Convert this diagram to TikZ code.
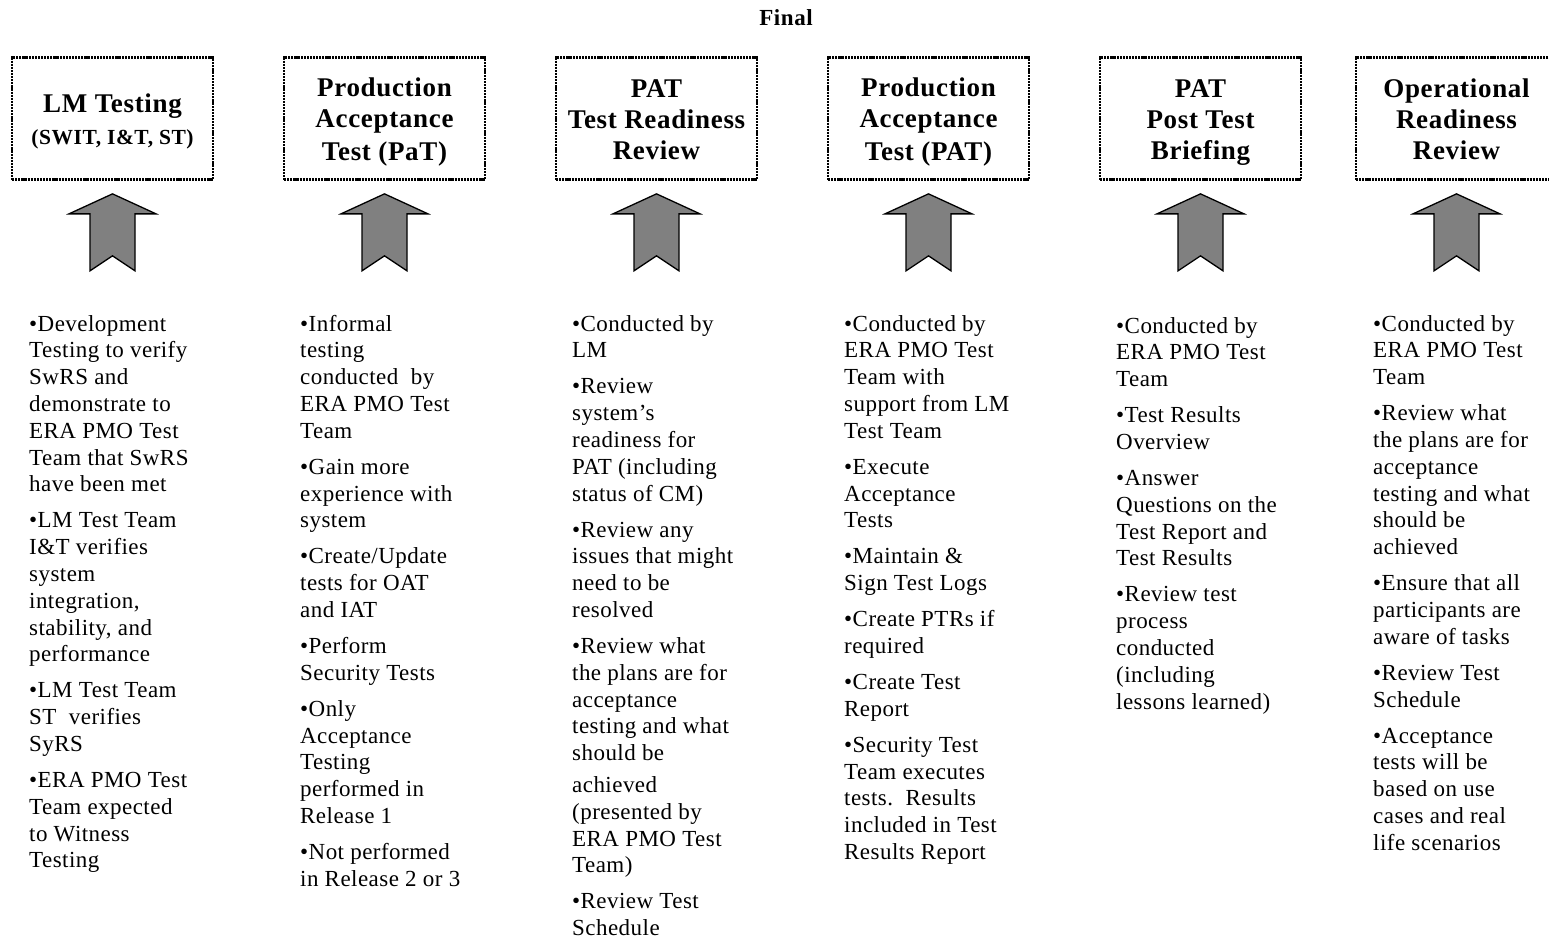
\documentclass[tikz,border=0pt]{standalone}
\usepackage{fontspec}
\setmainfont{Liberation Serif}
\newfontfamily\bodyfont{Liberation Serif}[LetterSpace=2]
\newfontfamily\headfont{Liberation Serif}[LetterSpace=2.5]
\definecolor{arrowgray}{HTML}{808080}
\newcommand{\gap}{\\[9.2pt]}
% invisible rule that fixes the top and bottom of a box title
\newcommand{\titlestrut}{\vrule height 25.75pt depth 5.25pt width 0pt}
\newcommand{\stagetitle}[3]{\titlestrut #1\\#2\\#3\titlestrut}
\begin{document}
\begin{tikzpicture}[x=1pt,y=-1pt,
  stage/.style={draw=black, line width=2.7pt, dash pattern=on 2.2pt off 0.9pt,
    minimum width=201pt, minimum height=122pt, inner sep=0pt, align=center,
    font=\headfont\bfseries\fontsize{27}{31}\selectfont},
  notes/.style={anchor=north west, inner sep=0pt, align=left,
    font=\bodyfont\fontsize{23}{26.8}\selectfont},
  blockarrow/.style={fill=arrowgray, draw=black, line width=1.3pt, line join=miter}
]
\useasboundingbox (0,0) rectangle (1549,938);

% heading
\node[font=\headfont\bfseries\fontsize{23}{26}\selectfont] (final) at (786,18) {Final};

% stage boxes
\node[stage] (b1) at (112.5,118.5) {\titlestrut LM Testing\\[-1pt]{\fontsize{21.5}{24}\selectfont (SWIT, I\&T, ST)\titlestrut}};
\node[stage] (b2) at (384.5,118.5) {\stagetitle{Production}{Acceptance}{Test (PaT)}};
\node[stage] (b3) at (656.5,118.5) {\stagetitle{PAT}{Test Readiness}{Review}};
\node[stage] (b4) at (928.5,118.5) {\stagetitle{Production}{Acceptance}{Test (PAT)}};
\node[stage] (b5) at (1200.5,118.5) {\stagetitle{PAT}{Post Test}{Briefing}};
\node[stage] (b6) at (1456.5,118.5) {\stagetitle{Operational}{Readiness}{Review}};

% block arrows pointing up into each box
\foreach \n in {1,...,6}
  \draw[blockarrow] ([yshift=-13pt]b\n.south) -- ++(43.5,20) -- ++(-21,0) -- ++(0,57)
    -- ++(-22.5,-15) -- ++(-22.5,15) -- ++(0,-57) -- ++(-21,0) -- cycle;

% bullet notes under each stage
\node[notes] (t1) at (29,312.2) {\strut •Development\\Testing to verify\\SwRS and\\demonstrate to\\ERA PMO Test\\Team that SwRS\\have been met\gap
•LM Test Team\\I\&T verifies\\system\\integration,\\stability, and\\performance\gap
•LM Test Team\\ST\ \ verifies\\SyRS\gap
•ERA PMO Test\\Team expected\\to Witness\\Testing};

\node[notes] (t2) at (300,312.2) {\strut •Informal\\testing\\conducted\ \ by\\ERA PMO Test\\Team\gap
•Gain more\\experience with\\system\gap
•Create/Update\\tests for OAT\\and IAT\gap
•Perform\\Security Tests\gap
•Only\\Acceptance\\Testing\\performed in\\Release 1\gap
•Not performed\\in Release 2 or 3};

\node[notes] (t3) at (572,312.2) {\strut •Conducted by\\LM\gap
•Review\\system’s\\readiness for\\PAT (including\\status of CM)\gap
•Review any\\issues that might\\need to be\\resolved\gap
•Review what\\the plans are for\\acceptance\\testing and what\\should be\\[5pt]achieved\\(presented by\\ERA PMO Test\\Team)\gap
•Review Test\\Schedule};

\node[notes] (t4) at (844,312.2) {\strut •Conducted by\\ERA PMO Test\\Team with\\support from LM\\Test Team\gap
•Execute\\Acceptance\\Tests\gap
•Maintain \&\\Sign Test Logs\gap
•Create PTRs if\\required\gap
•Create Test\\Report\gap
•Security Test\\Team executes\\tests.\ \ Results\\included in Test\\Results Report};

\node[notes] (t5) at (1116,314.2) {\strut •Conducted by\\ERA PMO Test\\Team\gap
•Test Results\\Overview\gap
•Answer\\Questions on the\\Test Report and\\Test Results\gap
•Review test\\process\\conducted\\(including\\lessons learned)};

\node[notes] (t6) at (1373,312.2) {\strut •Conducted by\\ERA PMO Test\\Team\gap
•Review what\\the plans are for\\acceptance\\testing and what\\should be\\achieved\gap
•Ensure that all\\participants are\\aware of tasks\gap
•Review Test\\Schedule\gap
•Acceptance\\tests will be\\based on use\\cases and real\\life scenarios};
\end{tikzpicture}
\end{document}
